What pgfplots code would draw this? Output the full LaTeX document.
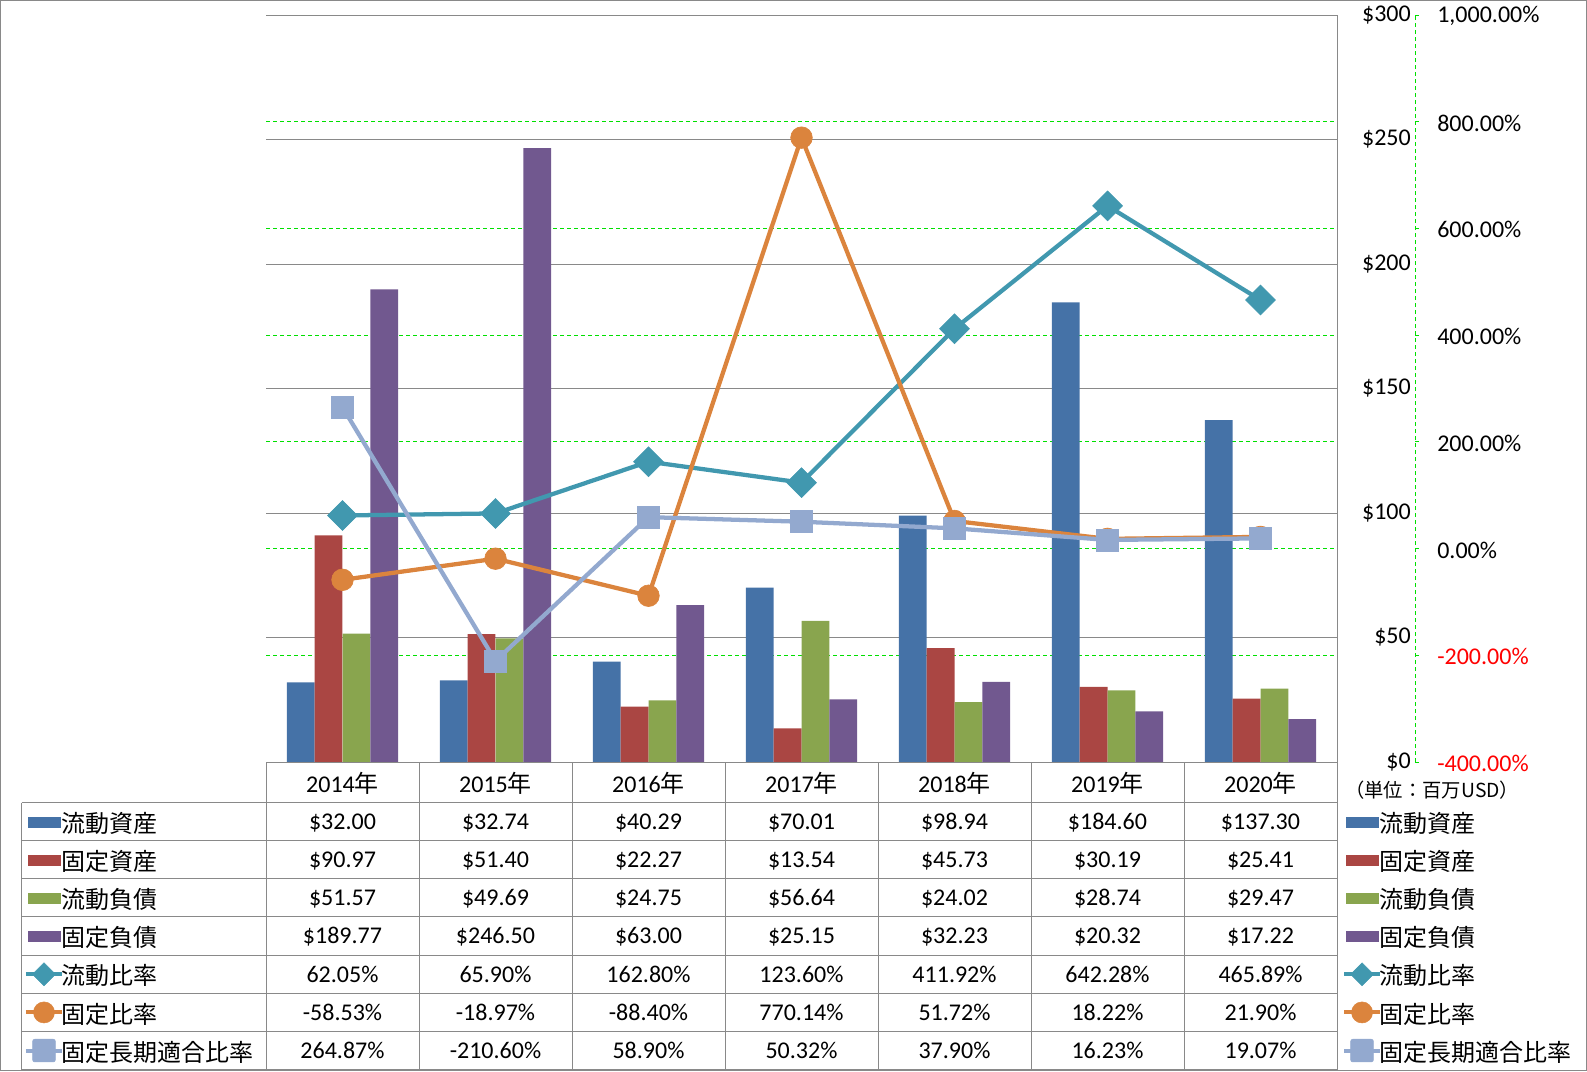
\documentclass[border=0pt]{standalone}
\usepackage{pgfplots}
\pgfplotsset{compat=1.18}
\usepackage{fontspec}
\setmainfont{Carlito}
\newfontfamily\jp{Noto Sans CJK JP}
\definecolor{cA}{HTML}{4572A7}
\definecolor{cB}{HTML}{AA4643}
\definecolor{cC}{HTML}{89A54E}
\definecolor{cD}{HTML}{71588F}
\definecolor{cE}{HTML}{4198AF}
\definecolor{cF}{HTML}{DB843D}
\definecolor{cG}{HTML}{93A9CF}
\definecolor{ggray}{HTML}{898989}
\definecolor{ggreen}{HTML}{00E000}
\definecolor{tred}{HTML}{FF0000}
\newcommand{\fs}{\fontsize{18}{21}\selectfont}
\pgfplotsset{
  plotarea/.style={at={(199.5pt,-571.5pt)}, anchor=south west, scale only axis,
    width=803.25pt, height=560.25pt, xmin=-0.5, xmax=6.5},
  legaxis/.style={at={(0pt,-803.25pt)}, anchor=south west, scale only axis,
    width=1190.25pt, height=803.25pt, xmin=0, xmax=1, ymin=0, ymax=1, hide axis,
    legend cell align=left,
    legend style={anchor=north west, draw=none, fill=none, inner sep=0pt, outer sep=0pt,
      row sep=0pt, column sep=-2pt, font=\jp\fs,
      nodes={inner sep=0pt, outer sep=0pt, text height=22.3pt, text depth=6.3pt}}},
}
\newcommand{\legitems}{%
 \addlegendimage{legend image code/.code={\fill[cA] (1.5pt,-3.75pt) rectangle (25.5pt,3.75pt);}}
 \addlegendentry{流動資産}
 \addlegendimage{legend image code/.code={\fill[cB] (1.5pt,-3.75pt) rectangle (25.5pt,3.75pt);}}
 \addlegendentry{固定資産}
 \addlegendimage{legend image code/.code={\fill[cC] (1.5pt,-3.75pt) rectangle (25.5pt,3.75pt);}}
 \addlegendentry{流動負債}
 \addlegendimage{legend image code/.code={\fill[cD] (1.5pt,-3.75pt) rectangle (25.5pt,3.75pt);}}
 \addlegendentry{固定負債}
 \addlegendimage{legend image code/.code={\draw[cE, line width=3pt] (0pt,0pt) -- (27pt,0pt); \fill[cE] (13.5pt,-8.6pt) -- (22.1pt,0pt) -- (13.5pt,8.6pt) -- (4.9pt,0pt) -- cycle;}}
 \addlegendentry{流動比率}
 \addlegendimage{legend image code/.code={\draw[cF, line width=3pt] (0pt,0pt) -- (27pt,0pt); \fill[cF] (13.5pt,0pt) circle (7.9pt);}}
 \addlegendentry{固定比率}
 \addlegendimage{legend image code/.code={\draw[cG, line width=3pt] (0pt,0pt) -- (27pt,0pt); \fill[cG, rounded corners=1.5pt] (5pt,-8.5pt) rectangle (22pt,8.5pt);}}
 \addlegendentry{固定長期適合比率}
}
\newcommand{\trow}[8]{%
 \node[anchor=base] at (342.5,#1) {#2};
 \node[anchor=base] at (495.5,#1) {#3};
 \node[anchor=base] at (648.5,#1) {#4};
 \node[anchor=base] at (801.5,#1) {#5};
 \node[anchor=base] at (954.5,#1) {#6};
 \node[anchor=base] at (1107.5,#1) {#7};
 \node[anchor=base] at (1260.5,#1) {#8};}
\begin{document}
\begin{tikzpicture}
\useasboundingbox (0pt,0pt) rectangle (1190.25pt,-803.25pt);
% secondary grid (behind bars)
\begin{axis}[plotarea, ymin=-400, ymax=1000, ytick={-200,0,200,400,600,800},
  yticklabels={}, xtick=\empty, axis line style={draw=none}, major tick style={draw=none},
  ymajorgrids, major grid style={ggreen, line width=0.75pt, dash pattern=on 3pt off 2.25pt}]
\addplot[draw=none, forget plot] coordinates {(0,0)};
\end{axis}
% primary: bars
\begin{axis}[plotarea, ymin=0, ymax=300, ytick={0,50,100,150,200,250,300},
  yticklabels={\$0,\$50,\$100,\$150,\$200,\$250,\$300},
  yticklabel pos=right,
  yticklabel style={anchor=east, inner sep=0pt, xshift=55.5pt, font=\fs},
  xtick={0,1,2,3,4,5,6},
  xticklabels={2014{\jp 年},2015{\jp 年},2016{\jp 年},2017{\jp 年},2018{\jp 年},2019{\jp 年},2020{\jp 年}},
  xticklabel style={anchor=base, inner sep=0pt, yshift=-18.6pt, font=\fs},
  axis line style={draw=none}, major tick style={draw=none},
  ymajorgrids, major grid style={ggray, line width=0.75pt},
  ybar, bar width=0.1817]
\addplot[fill=cA, draw=none, bar shift=-0.2726] coordinates {(0,32.00) (1,32.74) (2,40.29) (3,70.01) (4,98.94) (5,184.60) (6,137.30)};
\addplot[fill=cB, draw=none, bar shift=-0.0909] coordinates {(0,90.97) (1,51.40) (2,22.27) (3,13.54) (4,45.73) (5,30.19) (6,25.41)};
\addplot[fill=cC, draw=none, bar shift=0.0909] coordinates {(0,51.57) (1,49.69) (2,24.75) (3,56.64) (4,24.02) (5,28.74) (6,29.47)};
\addplot[fill=cD, draw=none, bar shift=0.2726] coordinates {(0,189.77) (1,246.50) (2,63.00) (3,25.15) (4,32.23) (5,20.32) (6,17.22)};
\end{axis}
% lines on secondary scale
\begin{axis}[plotarea, ymin=-400, ymax=1000, hide axis, clip=false]
\addplot[cE, line width=3.2pt, mark=square*, mark size=7.9pt, mark options={rotate=45, fill=cE, draw=cE, line width=0.5pt}]
  coordinates {(0,62.05) (1,65.90) (2,162.80) (3,123.60) (4,411.92) (5,642.28) (6,465.89)};
\addplot[cF, line width=3.2pt, mark=*, mark size=8.1pt, mark options={fill=cF, draw=cF, line width=0.5pt}]
  coordinates {(0,-58.53) (1,-18.97) (2,-88.40) (3,770.14) (4,51.72) (5,18.22) (6,21.90)};
\addplot[cG, line width=3.2pt, mark=square*, mark size=8.2pt, mark options={fill=cG, draw=cG, line width=0.5pt}]
  coordinates {(0,264.87) (1,-210.60) (2,58.90) (3,50.32) (4,37.90) (5,16.23) (6,19.07)};
\end{axis}
% right percent axis
\begin{axis}[at={(199.5pt,-571.5pt)}, anchor=south west, scale only axis,
  width=861.75pt, height=560.25pt, xmin=0, xmax=1, ymin=-400, ymax=1000,
  axis x line=none, axis y line=right,
  y axis line style={-, ggreen, line width=0.75pt, dash pattern=on 3pt off 2.25pt},
  ytick={-400,-200,0,200,400,600,800,1000}, tick align=outside, major tick length=3pt,
  ytick style={ggreen, line width=0.75pt},
  yticklabels={\textcolor{tred}{-400.00\%},\textcolor{tred}{-200.00\%},0.00\%,200.00\%,400.00\%,600.00\%,800.00\%,{1,000.00\%}},
  yticklabel style={anchor=west, inner sep=0pt, xshift=13.5pt, yshift=-1pt, font=\fs}]
\addplot[draw=none, forget plot] coordinates {(0,0)};
\end{axis}
% legends
\begin{axis}[legaxis, legend style={at={(0.01512,0.250513)}}]
\legitems
\end{axis}
\begin{axis}[legaxis, legend style={at={(0.84562,0.250513)}}]
\legitems
\end{axis}
% table
\begin{scope}[x=0.75pt, y=-0.75pt, every node/.style={font=\fs, inner sep=0pt}]
\draw[ggray, line width=0.75pt] (0.5,0.5) rectangle (1586.5,1070.5);
\draw[ggray, line width=0.75pt] (266,762) -- (1337,762);
\foreach \yy in {802.7,840.7,878.7,916.7,955,993.3,1031,1069.5}
  \draw[ggray, line width=0.75pt] (21.7,\yy) -- (1337,\yy);
\foreach \xx in {266,419,572,725,878,1031,1184}
  \draw[ggray, line width=0.75pt] (\xx,762) -- (\xx,1069.5);
\draw[ggray, line width=0.75pt] (1337,15) -- (1337,1069.5);
\draw[ggray, line width=0.75pt] (21.7,802.7) -- (21.7,1069.5);
\trow{829.7}{\$32.00}{\$32.74}{\$40.29}{\$70.01}{\$98.94}{\$184.60}{\$137.30}
\trow{867.7}{\$90.97}{\$51.40}{\$22.27}{\$13.54}{\$45.73}{\$30.19}{\$25.41}
\trow{905.7}{\$51.57}{\$49.69}{\$24.75}{\$56.64}{\$24.02}{\$28.74}{\$29.47}
\trow{943.9}{\$189.77}{\$246.50}{\$63.00}{\$25.15}{\$32.23}{\$20.32}{\$17.22}
\trow{982.2}{62.05\%}{65.90\%}{162.80\%}{123.60\%}{411.92\%}{642.28\%}{465.89\%}
\trow{1020.2}{-58.53\%}{-18.97\%}{-88.40\%}{770.14\%}{51.72\%}{18.22\%}{21.90\%}
\trow{1058.5}{264.87\%}{-210.60\%}{58.90\%}{50.32\%}{37.90\%}{16.23\%}{19.07\%}
\node[anchor=base west, font=\jp\fontsize{14.5}{17}\selectfont] at (1345,797) {（単位：百万USD）};
\end{scope}
\end{tikzpicture}
\end{document}
